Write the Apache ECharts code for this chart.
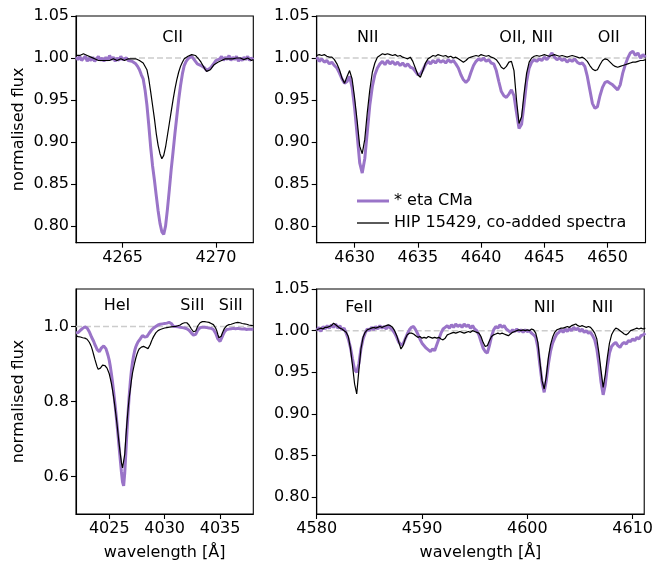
<!DOCTYPE html>
<html>
<head>
<meta charset="utf-8">
<script src="https://cdn.jsdelivr.net/npm/echarts@6/dist/echarts.min.js"></script>
<style>
  html, body { margin: 0; padding: 0; background: #fff; }
  #chart { width: 656px; height: 562px; }
</style>
</head>
<body>
<div id="chart"></div>
<script>
// Spectrum labels
const NAME_ETA = '* eta CMa';
const NAME_HIP = 'HIP 15429, co-added spectra';

// C II 4267 window: uniform wavelength grid (start, step in Angstrom)
const cStart = 4262.5, cStep = 0.1;
const cEta = [
  1.001,0.998,1.002,0.997,0.999,1.002,0.996,1.000,0.997,1.001,
  0.996,0.999,1.002,0.997,1.000,0.996,1.001,0.997,1.003,0.998,
  1.001,0.996,1.000,0.997,1.002,0.998,0.996,1.000,0.997,0.999,
  0.996,0.995,0.993,0.990,0.986,0.980,0.975,0.962,0.944,0.920,
  0.894,0.872,0.855,0.836,0.818,0.803,0.793,0.790,0.800,0.820,
  0.843,0.867,0.888,0.910,0.930,0.950,0.967,0.981,0.991,0.996,
  0.999,1.001,1.002,1.000,0.996,0.993,0.994,0.991,0.992,0.988,
  0.985,0.986,0.988,0.991,0.994,0.997,0.995,0.999,1.002,0.997,
  1.001,0.998,1.003,0.997,1.001,0.998,1.002,0.996,1.000,0.997,
  1.001,0.998,1.002,0.997,1.000,0.998
];
const cHip = [
  1.003,1.004,1.003,1.004,1.005,1.004,1.003,1.002,1.001,1.000,
  0.999,0.998,0.997,0.998,0.997,0.996,0.997,0.998,0.997,0.998,
  0.999,0.998,0.997,0.998,0.999,0.998,0.997,0.998,0.999,1.000,
  0.999,0.998,0.999,0.998,0.997,0.995,0.994,0.992,0.986,0.975,
  0.960,0.944,0.928,0.910,0.896,0.886,0.880,0.884,0.894,0.908,
  0.922,0.936,0.950,0.963,0.974,0.983,0.990,0.995,0.999,1.001,
  1.002,1.003,1.004,1.005,1.003,1.001,0.998,0.995,0.991,0.987,
  0.984,0.983,0.986,0.989,0.992,0.994,0.995,0.996,0.997,0.998,
  0.999,0.998,0.999,1.000,0.999,0.999,1.000,1.001,1.000,0.999,
  0.998,0.999,1.000,0.999,0.997,0.998
];

// N II / O II 4627-4653 window
const nStart = 4627.0, nStep = 0.2;
const nEta = [
  1.001,0.996,0.999,0.995,0.997,0.993,0.995,0.991,0.988,0.982,
  0.975,0.970,0.972,0.978,0.965,0.940,0.908,0.875,0.863,0.880,
  0.912,0.944,0.966,0.980,0.988,0.993,0.996,0.992,0.997,0.993,
  0.996,0.992,0.995,0.991,0.994,0.990,0.993,0.989,0.988,0.984,
  0.980,0.981,0.986,0.992,0.996,0.993,0.997,0.994,0.998,0.995,
  0.997,0.994,0.998,0.995,0.997,0.993,0.988,0.980,0.974,0.971,
  0.974,0.983,0.991,0.996,0.999,0.997,1.000,0.996,0.998,0.994,
  0.993,0.985,0.972,0.960,0.955,0.953,0.957,0.962,0.955,0.935,
  0.916,0.921,0.945,0.972,0.988,0.995,0.998,0.996,0.999,0.997,
  1.001,0.998,1.002,1.006,1.001,0.998,1.000,0.997,0.999,0.995,
  0.998,0.996,0.999,0.995,0.993,0.994,0.990,0.978,0.962,0.946,
  0.940,0.942,0.955,0.965,0.971,0.972,0.970,0.968,0.965,0.962,
  0.968,0.982,0.992,1.000,1.006,1.008,1.003,1.006,1.000,1.004,
  1.001
];
const nHip = [
  1.003,1.004,1.003,1.004,1.002,1.001,1.001,0.998,0.993,0.986,
  0.976,0.970,0.978,0.985,0.975,0.952,0.925,0.895,0.886,0.903,
  0.935,0.962,0.983,0.994,1.001,1.003,1.005,1.004,1.005,1.004,
  1.003,1.004,1.002,1.003,1.001,1.000,0.999,1.001,0.996,0.988,
  0.980,0.977,0.985,0.994,0.999,1.001,1.003,1.002,1.004,1.003,
  1.002,1.003,1.001,1.002,1.000,1.001,0.999,0.997,0.995,0.997,
  1.000,1.001,1.002,1.003,1.002,1.004,1.003,1.002,1.003,1.001,
  1.000,0.998,0.994,0.989,0.987,0.990,0.995,0.996,0.985,0.950,
  0.922,0.930,0.958,0.982,0.995,1.000,1.002,1.003,1.002,1.003,
  1.004,1.003,1.002,1.003,1.004,1.003,1.002,1.003,1.002,1.001,
  1.002,1.003,1.002,1.001,1.000,1.001,0.999,0.996,0.991,0.987,
  0.985,0.986,0.992,0.997,0.999,0.998,0.995,0.992,0.990,0.989,
  0.990,0.991,0.992,0.993,0.994,0.995,0.995,0.996,0.997,0.997,
  0.998
];

// He I 4026 window
const heStart = 4022.0, heStep = 0.1;
const heEta = [
  0.983,0.986,0.984,0.988,0.990,0.992,0.995,0.997,0.999,1.000,
  0.996,0.992,0.986,0.979,0.972,0.966,0.960,0.952,0.946,0.939,
  0.934,0.933,0.937,0.943,0.947,0.948,0.946,0.941,0.932,0.922,
  0.910,0.893,0.873,0.850,0.825,0.798,0.770,0.740,0.708,0.675,
  0.643,0.612,0.585,0.575,0.610,0.665,0.720,0.770,0.815,0.852,
  0.882,0.905,0.922,0.936,0.946,0.953,0.959,0.963,0.967,0.972,
  0.976,0.974,0.972,0.975,0.973,0.978,0.982,0.986,0.990,0.993,
  0.996,0.998,1.000,1.002,1.004,1.003,1.006,1.005,1.007,1.004,
  1.008,1.006,1.009,1.005,1.011,1.013,1.008,1.003,1.000,0.998,
  1.000,0.997,0.999,0.996,0.998,0.995,0.997,0.994,0.996,0.993,
  0.994,0.991,0.990,0.986,0.983,0.979,0.977,0.976,0.979,0.985,
  0.991,0.995,0.997,0.999,0.998,1.000,0.998,1.000,0.997,0.999,
  0.996,0.998,0.995,0.996,0.992,0.988,0.982,0.975,0.967,0.962,
  0.960,0.965,0.973,0.980,0.986,0.990,0.992,0.994,0.993,0.996,
  0.994,0.997,0.995,0.998,0.994,0.997,0.995,0.998,0.994,0.996,
  0.993,0.997,0.994,0.996,0.992,0.995,0.993,0.996,0.993,0.995,
  0.993
];
const heHip = [
  0.975,0.974,0.973,0.974,0.972,0.971,0.970,0.970,0.969,0.968,
  0.966,0.963,0.958,0.952,0.945,0.935,0.924,0.913,0.903,0.893,
  0.886,0.885,0.889,0.894,0.897,0.898,0.896,0.893,0.889,0.884,
  0.874,0.861,0.847,0.830,0.811,0.789,0.765,0.740,0.712,0.685,
  0.660,0.637,0.623,0.626,0.660,0.705,0.745,0.780,0.810,0.832,
  0.856,0.876,0.890,0.904,0.916,0.926,0.934,0.940,0.943,0.945,
  0.947,0.947,0.946,0.944,0.942,0.941,0.945,0.952,0.960,0.967,
  0.973,0.978,0.983,0.986,0.989,0.991,0.992,0.993,0.994,0.995,
  0.996,0.996,0.997,0.997,0.998,0.998,0.999,0.999,1.000,0.999,
  1.000,1.001,1.002,1.003,1.004,1.006,1.008,1.009,1.010,1.011,
  1.010,1.008,1.004,0.999,0.994,0.989,0.986,0.985,0.988,0.995,
  1.002,1.007,1.010,1.012,1.013,1.014,1.013,1.013,1.012,1.012,
  1.011,1.010,1.008,1.007,1.005,1.001,0.996,0.989,0.979,0.970,
  0.968,0.974,0.982,0.989,0.995,0.999,1.002,1.004,1.005,1.006,
  1.006,1.007,1.008,1.009,1.010,1.011,1.011,1.011,1.010,1.009,
  1.008,1.008,1.007,1.006,1.006,1.005,1.004,1.004,1.003,1.003,
  1.002
];

// Fe II / N II 4580-4611 window
const feStart = 4580.0, feStep = 0.2;
const feEta = [
  1.000,1.004,0.999,1.005,1.002,1.006,1.003,1.007,1.004,1.008,
  1.003,1.006,1.001,1.003,0.997,0.990,0.980,0.966,0.953,0.950,
  0.960,0.978,0.990,0.997,1.002,1.000,1.004,1.001,1.005,1.002,
  1.006,1.003,1.005,1.002,1.006,1.003,1.001,0.997,0.992,0.986,
  0.983,0.984,0.990,0.996,1.001,1.004,1.005,1.001,0.996,0.990,
  0.985,0.982,0.979,0.977,0.975,0.978,0.976,0.983,0.990,0.997,
  1.002,1.004,1.006,1.003,1.007,1.004,1.008,1.005,1.007,1.004,
  1.008,1.005,1.007,1.003,1.006,1.002,1.000,0.995,0.987,0.979,
  0.975,0.973,0.982,0.993,1.001,1.005,1.003,1.007,1.004,1.006,
  1.002,1.000,0.998,1.001,0.999,1.002,0.999,1.001,0.998,1.001,
  0.999,1.000,0.997,0.995,0.992,0.980,0.958,0.938,0.926,0.940,
  0.960,0.975,0.985,0.991,0.996,0.998,1.001,0.998,1.002,0.999,
  1.003,1.000,1.004,1.001,1.003,0.999,1.002,0.998,1.000,0.997,
  0.998,0.994,0.989,0.978,0.960,0.938,0.923,0.935,0.957,0.973,
  0.981,0.984,0.986,0.982,0.980,0.984,0.986,0.984,0.988,0.987,
  0.990,0.988,0.992,0.990,0.994,0.995,0.997
];
const feHip = [
  1.001,1.002,1.003,1.002,1.004,1.004,1.005,1.006,1.009,1.007,
  1.005,1.003,1.002,1.000,0.998,0.993,0.979,0.958,0.936,0.924,
  0.952,0.978,0.992,0.998,1.001,1.002,1.003,1.004,1.003,1.004,
  1.005,1.004,1.005,1.006,1.007,1.006,1.004,1.000,0.994,0.986,
  0.978,0.982,0.990,0.995,0.997,0.997,0.996,0.994,0.992,0.993,
  0.991,0.992,0.991,0.993,0.992,0.991,0.992,0.991,0.992,0.990,
  0.989,0.991,0.995,0.996,0.997,0.998,0.997,0.998,0.999,0.998,
  0.997,0.998,0.999,0.998,1.000,0.999,0.998,0.997,0.993,0.986,
  0.981,0.982,0.988,0.993,0.995,0.996,0.997,0.996,0.997,0.996,
  0.995,0.994,0.996,0.998,0.999,1.000,1.001,1.000,1.001,1.000,
  1.001,1.000,1.002,1.001,0.997,0.986,0.962,0.940,0.930,0.945,
  0.968,0.983,0.992,0.998,1.001,1.002,1.003,1.003,1.004,1.005,
  1.004,1.006,1.007,1.008,1.006,1.005,1.006,1.005,1.004,1.005,
  1.004,1.001,0.997,0.990,0.973,0.952,0.932,0.947,0.968,0.985,
  0.995,1.000,1.003,1.002,1.000,0.998,0.996,0.995,0.997,1.000,
  1.001,1.002,1.003,1.002,1.003,1.002,1.003
];

// Tick values
const cTicks = [4265, 4270];
const nTicks = [4630, 4635, 4640, 4645, 4650];
const heTicks = [4025, 4030, 4035];
const feTicks = [4580, 4590, 4600, 4610];
const fluxTicks = [0.80, 0.85, 0.90, 0.95, 1.00, 1.05];
const heFluxTicks = [0.6, 0.8, 1.0];

// Line identifications: [label, wavelength, flux]
const cLines = [['CII', 4267.68, 1.024]];
const nLines = [['NII', 4631.03, 1.024], ['OII, NII', 4643.56, 1.024], ['OII', 4650.09, 1.024]];
const heLines = [['HeI', 4025.7, 1.054], ['SiII', 4032.5, 1.054], ['SiII', 4035.97, 1.054]];
const feLines = [['FeII', 4584.02, 1.027], ['NII', 4601.63, 1.027], ['NII', 4607.13, 1.027]];

const FONT = 'DejaVu Sans';
const ETA_COLOR = '#9a74c8';
const AX = '#000';

function spectrum(start, step, flux) {
  return flux.map((f, i) => [+(start + i * step).toFixed(2), f]);
}

const panels = [
  { grid: { left: 76, top: 16, width: 177.3, height: 226.7 }, xr: [4262.5, 4272.0], yr: [0.78, 1.05],
    xt: cTicks, yt: fluxTicks, dig: 2, start: cStart, step: cStep, eta: cEta, hip: cHip, lines: cLines,
    yName: 'normalised flux', xName: '' },
  { grid: { left: 316.7, top: 16, width: 328.8, height: 226.7 }, xr: [4627.0, 4653.0], yr: [0.78, 1.05],
    xt: nTicks, yt: fluxTicks, dig: 2, start: nStart, step: nStep, eta: nEta, hip: nHip, lines: nLines,
    yName: '', xName: '' },
  { grid: { left: 76, top: 289, width: 177.3, height: 225 }, xr: [4022.0, 4038.0], yr: [0.5, 1.1],
    xt: heTicks, yt: heFluxTicks, dig: 1, start: heStart, step: heStep, eta: heEta, hip: heHip, lines: heLines,
    yName: 'normalised flux', xName: 'wavelength [Å]' },
  { grid: { left: 316.7, top: 289, width: 328.8, height: 225 }, xr: [4580.0, 4611.1], yr: [0.78, 1.05],
    xt: feTicks, yt: fluxTicks, dig: 2, start: feStart, step: feStep, eta: feEta, hip: feHip, lines: feLines,
    yName: '', xName: 'wavelength [Å]' }
];

const textStyle = { color: AX, fontSize: 16, fontFamily: FONT };
const grids = [], xAxes = [], yAxes = [], series = [];

panels.forEach((p, i) => {
  grids.push(Object.assign({ show: true, borderColor: AX, borderWidth: 1.1, backgroundColor: 'transparent' }, p.grid));
  xAxes.push({
    gridIndex: i, type: 'value', min: p.xr[0], max: p.xr[1],
    axisLine: { show: true, onZero: false, lineStyle: { color: AX, width: 1.1 } },
    axisTick: { show: true, customValues: p.xt, length: 5, lineStyle: { color: AX, width: 1.1 } },
    axisLabel: Object.assign({ customValues: p.xt, margin: 7, formatter: v => String(v) }, textStyle),
    splitLine: { show: false },
    name: p.xName, nameLocation: 'middle', nameGap: 31, nameTextStyle: textStyle
  });
  yAxes.push({
    gridIndex: i, type: 'value', min: p.yr[0], max: p.yr[1],
    axisLine: { show: true, onZero: false, lineStyle: { color: AX, width: 1.1 } },
    axisTick: { show: true, customValues: p.yt, length: 5, lineStyle: { color: AX, width: 1.1 } },
    axisLabel: Object.assign({ customValues: p.yt, margin: 7, formatter: v => v.toFixed(p.dig) }, textStyle),
    splitLine: { show: false },
    name: p.yName, nameLocation: 'middle', nameGap: 49, nameRotate: 90, nameTextStyle: textStyle
  });
  // continuum level
  series.push({
    type: 'line', xAxisIndex: i, yAxisIndex: i, silent: true, symbol: 'none', z: 1,
    data: [[p.xr[0], 1], [p.xr[1], 1]],
    lineStyle: { color: '#cccccc', width: 1.5, type: [6, 3] }
  });
  series.push({
    type: 'line', name: NAME_ETA, xAxisIndex: i, yAxisIndex: i, symbol: 'none', z: 2,
    data: spectrum(p.start, p.step, p.eta),
    lineStyle: { color: ETA_COLOR, width: 3 }, itemStyle: { color: ETA_COLOR }
  });
  series.push({
    type: 'line', name: NAME_HIP, xAxisIndex: i, yAxisIndex: i, symbol: 'none', z: 3,
    data: spectrum(p.start, p.step, p.hip),
    lineStyle: { color: '#000', width: 1.2 }, itemStyle: { color: '#000' }
  });
});

// one legend per entry so each sample line keeps its own thickness
function legendEntry(name, color, thickness, top) {
  return {
    data: [{ name: name, icon: 'rect', itemStyle: { color: color } }],
    orient: 'vertical', left: 352, top: top,
    itemWidth: 32, itemHeight: thickness, selectedMode: false,
    textStyle: textStyle
  };
}

const chart = echarts.init(document.getElementById('chart'), null, { renderer: 'canvas' });
chart.setOption({
  animation: false,
  backgroundColor: '#fff',
  grid: grids,
  xAxis: xAxes,
  yAxis: yAxes,
  legend: [
    legendEntry(NAME_ETA, ETA_COLOR, 3, 188),
    legendEntry(NAME_HIP, '#000', 1.3, 210)
  ],
  series: series
});

// line identifications, placed through each panel's own axes
const idTexts = [];
panels.forEach((p, i) => {
  p.lines.forEach(l => {
    const pt = chart.convertToPixel({ gridIndex: i }, [l[1], l[2]]);
    idTexts.push({
      type: 'text', x: pt[0], y: pt[1], silent: true, z: 10,
      style: { text: l[0], fill: AX, font: '16px "DejaVu Sans"', align: 'center', verticalAlign: 'middle' }
    });
  });
});
chart.setOption({ graphic: idTexts });
</script>
</body>
</html>
